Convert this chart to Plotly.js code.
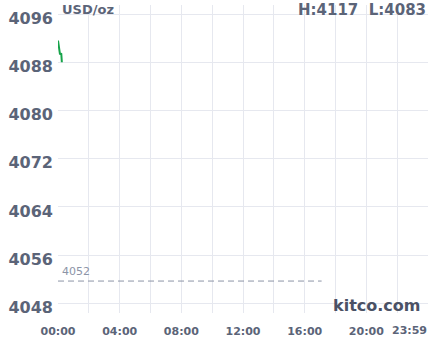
<!DOCTYPE html>
<html><head><meta charset="utf-8">
<script src="https://cdn.plot.ly/plotly-3.0.1.min.js"></script>
<style>html,body{margin:0;padding:0;background:#fff}#c{width:438px;height:337px}</style>
</head><body><div id="c"></div>
<script>
// time in hours since 00:00, price in USD/oz
const times = [0, 0.07, 0.13, 0.17, 0.21, 0.23, 0.25];
const prices = [4091.6, 4090.6, 4089.3, 4089.4, 4089.5, 4089.0, 4088.0];
const prevClose = 4051.7;
const prevCloseLabel = "4052";
const prevCloseEnd = 17.1;
const tickHours = [0, 4, 8, 12, 16, 20];
const tickLabels = ["00:00", "04:00", "08:00", "12:00", "16:00", "20:00"];
const yTicks = [4048, 4056, 4064, 4072, 4080, 4088, 4096];
const high = 4117, low = 4083;

const font = "DejaVu Sans, sans-serif";
const txt = "#5b6478";

const traces = [
  {x: [0, prevCloseEnd], y: [prevClose, prevClose], mode: "lines",
   line: {color: "#8c94a7", width: 1, dash: "6px,4px"}, hoverinfo: "skip"},
  {x: times, y: prices, mode: "lines", line: {color: "#16a34a", width: 2}}
];

const layout = {
  width: 438, height: 337,
  margin: {l: 58, r: 10, t: 5, b: 24},
  paper_bgcolor: "#fff", plot_bgcolor: "#fff",
  showlegend: false,
  font: {family: font, color: txt},
  xaxis: {range: [0, 24], tickvals: tickHours, ticktext: tickLabels,
    showgrid: true, gridcolor: "#e6e8ef", gridwidth: 1, zeroline: false,
    showline: false, ticks: "", tickfont: {size: 11, family: font, color: txt, weight: "bold"},
    ticklabelstandoff: 10,
    minor: {dtick: 2, tick0: 0, showgrid: true, gridcolor: "#e6e8ef"},
    fixedrange: true},
  yaxis: {range: [4046.4, 4097.5], tickvals: yTicks, ticktext: yTicks.map(String),
    showgrid: true, gridcolor: "#e6e8ef", zeroline: false, ticks: "",
    tickfont: {size: 16, family: font, color: txt, weight: "bold"},
    ticklabelshift: 4, ticklabelstandoff: 4, fixedrange: true},
  annotations: [
    {xref: "paper", yref: "paper", x: 0, y: 1, xshift: 2, yshift: 5, xanchor: "left", yanchor: "top",
     text: "USD/oz", showarrow: false, font: {size: 13, family: font, color: txt, weight: "bold"}},
    {xref: "paper", yref: "paper", x: 1, y: 1, yshift: 6, xanchor: "right", yanchor: "top",
     text: "H:" + high + "  L:" + low, showarrow: false,
     font: {size: 15, family: font, color: txt, weight: "bold"}},
    {xref: "x", yref: "y", x: 0, y: prevClose, xanchor: "left", yanchor: "bottom", xshift: 2, yshift: 1,
     text: prevCloseLabel, showarrow: false, font: {size: 11, family: font, color: "#8c94a7"}},
    {xref: "paper", yref: "paper", x: 1, y: 0, xshift: -6, yshift: -4, xanchor: "right", yanchor: "bottom",
     text: "kitco.com", showarrow: false, font: {size: 16, family: font, color: "#4a5165", weight: "bold"}},
    {xref: "paper", yref: "paper", x: 1, y: 0, xshift: 1, yshift: -17, xanchor: "right", yanchor: "middle",
     text: "23:59", showarrow: false, font: {size: 11, family: font, color: txt, weight: "bold"}}
  ]
};
Plotly.newPlot("c", traces, layout, {displayModeBar: false, staticPlot: true});
</script></body></html>
